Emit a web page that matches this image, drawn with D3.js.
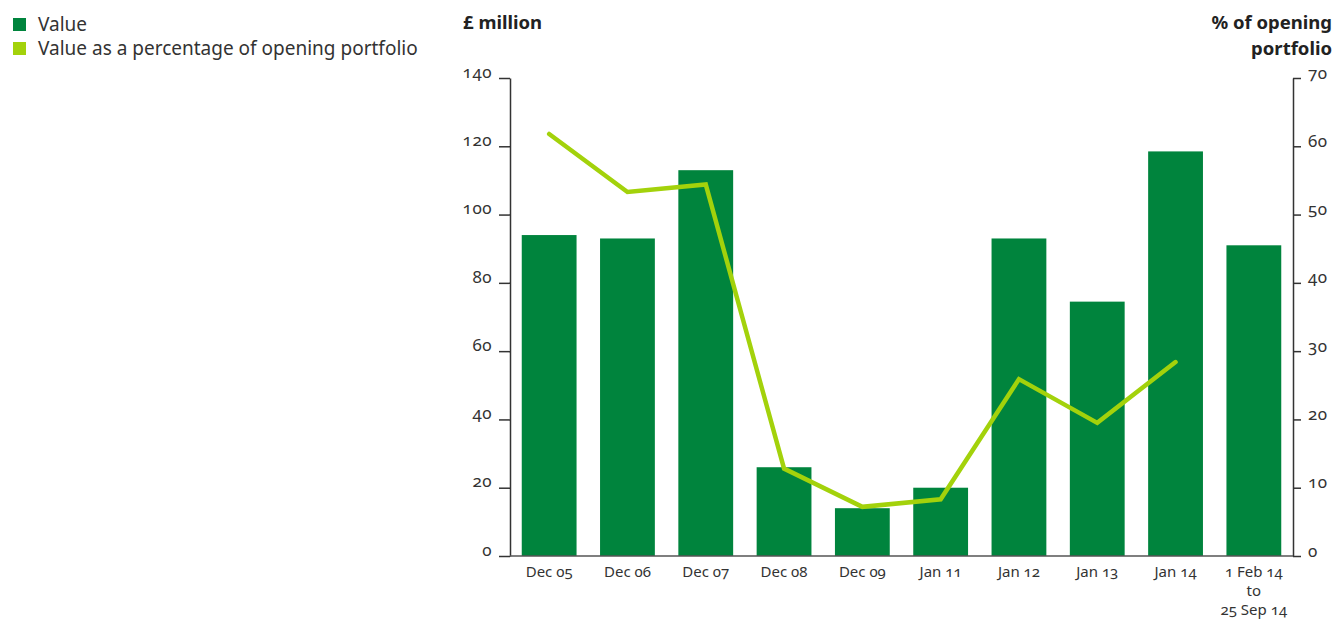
<!DOCTYPE html>
<html>
<head>
<meta charset="utf-8">
<script src="https://cdn.jsdelivr.net/npm/d3@7"></script>
<style>
  html, body { margin: 0; padding: 0; background: #fff; }
  svg { display: block; }
  text { font-family: "Noto Sans", "Open Sans", sans-serif; fill: #333; font-variant-numeric: oldstyle-nums; font-feature-settings: "onum" 1; }
</style>
</head>
<body>
<svg id="chart" width="1335" height="621"></svg>
<script>
// Period labels (multi-line where needed)
const categories = ["Dec 05", "Dec 06", "Dec 07", "Dec 08", "Dec 09", "Jan 11", "Jan 12", "Jan 13", "Jan 14", "1 Feb 14|to|25 Sep 14"];
// Value, £ million
const values = [94, 93, 113, 26, 14, 20, 93, 74.5, 118.5, 91];
// Value as a percentage of opening portfolio (no figure for the final part-year)
const percentages = [61.8, 53.3, 54.4, 12.8, 7.2, 8.3, 25.9, 19.5, 28.4, null];
const leftTicks = [0, 20, 40, 60, 80, 100, 120, 140];
const rightTicks = [0, 10, 20, 30, 40, 50, 60, 70];

const barColor = "#00843d";
const lineColor = "#a3d20b";
const axisColor = "#333";

const svg = d3.select("#chart");
const plot = { left: 510, right: 1293, top: 78, bottom: 556 };

const x = d3.scaleBand()
  .domain(categories)
  .range([plot.left, plot.right])
  .paddingInner(0.3)
  .paddingOuter(0.15);

const yLeft = d3.scaleLinear().domain([0, 140]).range([plot.bottom, plot.top]);
const yRight = d3.scaleLinear().domain([0, 70]).range([plot.bottom, plot.top]);

// Bars
svg.append("g")
  .selectAll("rect")
  .data(values)
  .join("rect")
  .attr("x", (d, i) => x(categories[i]))
  .attr("y", d => yLeft(d))
  .attr("width", x.bandwidth())
  .attr("height", d => yLeft(0) - yLeft(d))
  .attr("fill", barColor);

// Percentage line
const line = d3.line()
  .defined(d => d.v != null)
  .x(d => x(d.c) + x.bandwidth() / 2)
  .y(d => yRight(d.v));

svg.append("path")
  .datum(categories.map((c, i) => ({ c, v: percentages[i] })))
  .attr("d", line)
  .attr("fill", "none")
  .attr("stroke", lineColor)
  .attr("stroke-width", 4.5)
  .attr("stroke-linejoin", "miter")
  .attr("stroke-linecap", "round");

// Left axis
const leftAxis = svg.append("g")
  .attr("transform", `translate(${plot.left},0)`)
  .call(d3.axisLeft(yLeft).tickValues(leftTicks).tickSize(11).tickPadding(7).tickSizeOuter(0));
leftAxis.select(".domain").attr("stroke", axisColor).attr("stroke-width", 1.5);
leftAxis.selectAll(".tick line").attr("stroke", axisColor).attr("stroke-width", 1.5);
leftAxis.selectAll(".tick text")
  .attr("dy", "-0.05em")
  .style("font-size", "17px")
  .style("letter-spacing", "0.5px")
  .style("fill", "#333");

// Right axis
const rightAxis = svg.append("g")
  .attr("transform", `translate(${plot.right},0)`)
  .call(d3.axisRight(yRight).tickValues(rightTicks).tickSize(8).tickPadding(7).tickSizeOuter(0));
rightAxis.select(".domain").attr("stroke", axisColor).attr("stroke-width", 1.5);
rightAxis.selectAll(".tick line").attr("stroke", axisColor).attr("stroke-width", 1.5);
rightAxis.selectAll(".tick text")
  .attr("dy", "0.0em")
  .style("font-size", "17px")
  .style("letter-spacing", "0.5px")
  .style("fill", "#333");

// Baseline
svg.append("line")
  .attr("x1", plot.left).attr("x2", plot.right)
  .attr("y1", yLeft(0)).attr("y2", yLeft(0))
  .attr("stroke", "#555").attr("stroke-width", 1.5);

// Category labels
const xLabels = svg.append("g");
categories.forEach(c => {
  const t = xLabels.append("text")
    .attr("text-anchor", "middle")
    .attr("x", x(c) + x.bandwidth() / 2)
    .attr("y", 577)
    .style("font-size", "15px");
  c.split("|").forEach((part, j) => {
    t.append("tspan")
      .attr("x", x(c) + x.bandwidth() / 2)
      .attr("dy", j === 0 ? 0 : 19)
      .text(part);
  });
});

// Axis titles
svg.append("text")
  .attr("x", 463).attr("y", 29)
  .style("font-size", "18.5px").style("font-weight", "bold").style("fill", "#222")
  .text("£ million");

const rt = svg.append("text")
  .attr("text-anchor", "end")
  .style("font-size", "18.5px").style("font-weight", "bold").style("fill", "#222");
rt.append("tspan").attr("x", 1332).attr("y", 29).text("% of opening");
rt.append("tspan").attr("x", 1332).attr("y", 55).text("portfolio");

// Legend
const legendItems = [
  { label: "Value", color: barColor },
  { label: "Value as a percentage of opening portfolio", color: lineColor }
];
const legend = svg.append("g");
legendItems.forEach((d, i) => {
  legend.append("rect")
    .attr("x", 13).attr("y", 18 + i * 24)
    .attr("width", 13).attr("height", 13)
    .attr("fill", d.color);
  legend.append("text")
    .attr("x", 38).attr("y", 31 + i * 24)
    .style("font-size", "19px").style("fill", "#333")
    .text(d.label);
});
</script>
</body>
</html>
